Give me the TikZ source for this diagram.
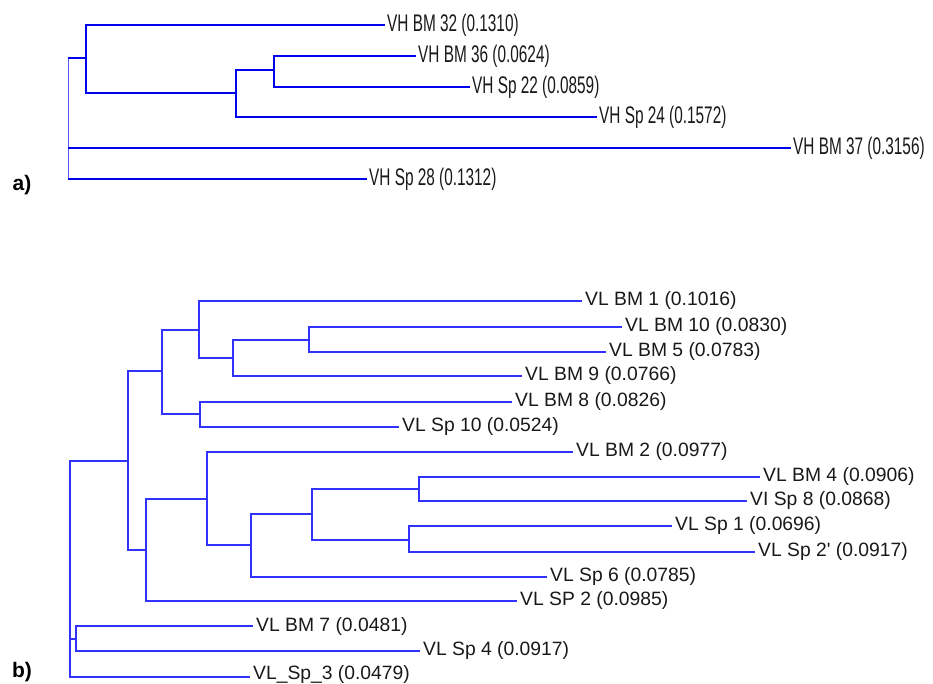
\documentclass[tikz,border=0pt]{standalone}
\usepackage{fontspec}
\setmainfont{Liberation Sans}
\newfontfamily\condfont[FakeStretch=0.64]{Liberation Sans}
\newfontfamily\lbfont[Ligatures=TeXOff]{Liberation Sans}
\definecolor{treeA}{RGB}{0,0,240}
\definecolor{treeAthin}{RGB}{90,90,255}
\definecolor{treeB}{RGB}{50,50,255}
\definecolor{labtext}{RGB}{25,25,25}
\begin{document}
\begin{tikzpicture}[x=1pt,y=-1pt,
  ea/.style={draw=treeA,line width=2.6pt},
  eathin/.style={draw=treeAthin,line width=1pt},
  eb/.style={draw=treeB,line width=1.3pt},
  la/.style={anchor=west,inner xsep=2pt,inner ysep=0pt,text=labtext,font=\condfont\fontsize{24}{26}\selectfont},
  lb/.style={anchor=west,inner xsep=3pt,inner ysep=0pt,text=labtext,font=\lbfont\fontsize{19.3}{21}\selectfont},
  panel/.style={font=\bfseries\fontsize{21}{23}\selectfont,text=black}]
\useasboundingbox (0,0) rectangle (933,684);

% ---------- panel a ----------
\coordinate (a0) at (68,118);
\coordinate (a1) at (86,58);
\coordinate (a2) at (236,93);
\coordinate (a3) at (274,70);
\node[la] (l32) at (385,25) {VH BM 32 (0.1310)};
\node[la] (l36) at (416,56) {VH BM 36 (0.0624)};
\node[la] (l22) at (470,87) {VH Sp 22 (0.0859)};
\node[la] (l24) at (597,117) {VH Sp 24 (0.1572)};
\node[la] (l37) at (791,148) {VH BM 37 (0.3156)};
\node[la] (l28) at (367,179) {VH Sp 28 (0.1312)};

\draw[eathin] (a0|-a1) -- (a0|-l28.west);
\draw[ea] (a0|-a1) -- (a1);
\draw[ea] (a0|-l37.west) -- (l37.west);
\draw[ea] (a0|-l28.west) -- (l28.west);
\draw[ea] (a1) |- (l32.west);
\draw[ea] (a1) |- (a2);
\draw[ea] (a2) |- (a3);
\draw[ea] (a2) |- (l24.west);
\draw[ea] (a3) |- (l36.west);
\draw[ea] (a3) |- (l22.west);

\node[panel] (pa) at (22,185) {a)};

% ---------- panel b ----------
\coordinate (b0) at (70,560);
\coordinate (X) at (128,461);
\coordinate (P) at (162,371);
\coordinate (Q) at (199,330);
\coordinate (R) at (233,358);
\coordinate (S) at (309,340);
\coordinate (T) at (200,414);
\coordinate (U) at (146,550);
\coordinate (V) at (207,499);
\coordinate (W) at (251,545);
\coordinate (Z) at (312,514);
\coordinate (Za) at (419,489);
\coordinate (Zb) at (409,540);
\coordinate (Y) at (76,639);

\node[lb] (bm1) at (582,301) {VL BM 1 (0.1016)};
\node[lb] (bm10) at (622,327) {VL BM 10 (0.0830)};
\node[lb] (bm5) at (606,352) {VL BM 5 (0.0783)};
\node[lb] (bm9) at (522,376) {VL BM 9 (0.0766)};
\node[lb] (bm8) at (512,402) {VL BM 8 (0.0826)};
\node[lb] (sp10) at (399,427) {VL Sp 10 (0.0524)};
\node[lb] (bm2) at (573,452) {VL BM 2 (0.0977)};
\node[lb] (bm4) at (760,477) {VL BM 4 (0.0906)};
\node[lb] (sp8) at (747,501) {VI Sp 8 (0.0868)};
\node[lb] (sp1) at (672,526) {VL Sp 1 (0.0696)};
\node[lb] (sp2p) at (755,552) {VL Sp 2' (0.0917)};
\node[lb] (sp6) at (547,577) {VL Sp 6 (0.0785)};
\node[lb] (SP2) at (517,601) {VL SP 2 (0.0985)};
\node[lb] (bm7) at (253,626) {VL BM 7 (0.0481)};
\node[lb] (sp4) at (420,651) {VL Sp 4 (0.0917)};
\node[lb,text height=14pt,text depth=9pt] (sp3) at (250,677) {VL\_Sp\_3 (0.0479)};

\draw[eb] (b0) |- (X);
\draw[eb] (b0) |- (Y);
\draw[eb] (b0) |- (sp3.west);
\draw[eb] (X) |- (P);
\draw[eb] (X) |- (U);
\draw[eb] (P) |- (Q);
\draw[eb] (P) |- (T);
\draw[eb] (Q) |- (bm1.west);
\draw[eb] (Q) |- (R);
\draw[eb] (R) |- (S);
\draw[eb] (R) |- (bm9.west);
\draw[eb] (S) |- (bm10.west);
\draw[eb] (S) |- (bm5.west);
\draw[eb] (T) |- (bm8.west);
\draw[eb] (T) |- (sp10.west);
\draw[eb] (U) |- (V);
\draw[eb] (U) |- (SP2.west);
\draw[eb] (V) |- (bm2.west);
\draw[eb] (V) |- (W);
\draw[eb] (W) |- (Z);
\draw[eb] (W) |- (sp6.west);
\draw[eb] (Z) |- (Za);
\draw[eb] (Z) |- (Zb);
\draw[eb] (Za) |- (bm4.west);
\draw[eb] (Za) |- (sp8.west);
\draw[eb] (Zb) |- (sp1.west);
\draw[eb] (Zb) |- (sp2p.west);
\draw[eb] (Y) |- (bm7.west);
\draw[eb] (Y) |- (sp4.west);

\node[panel] (pb) at (22,672) {b)};
\end{tikzpicture}
\end{document}
